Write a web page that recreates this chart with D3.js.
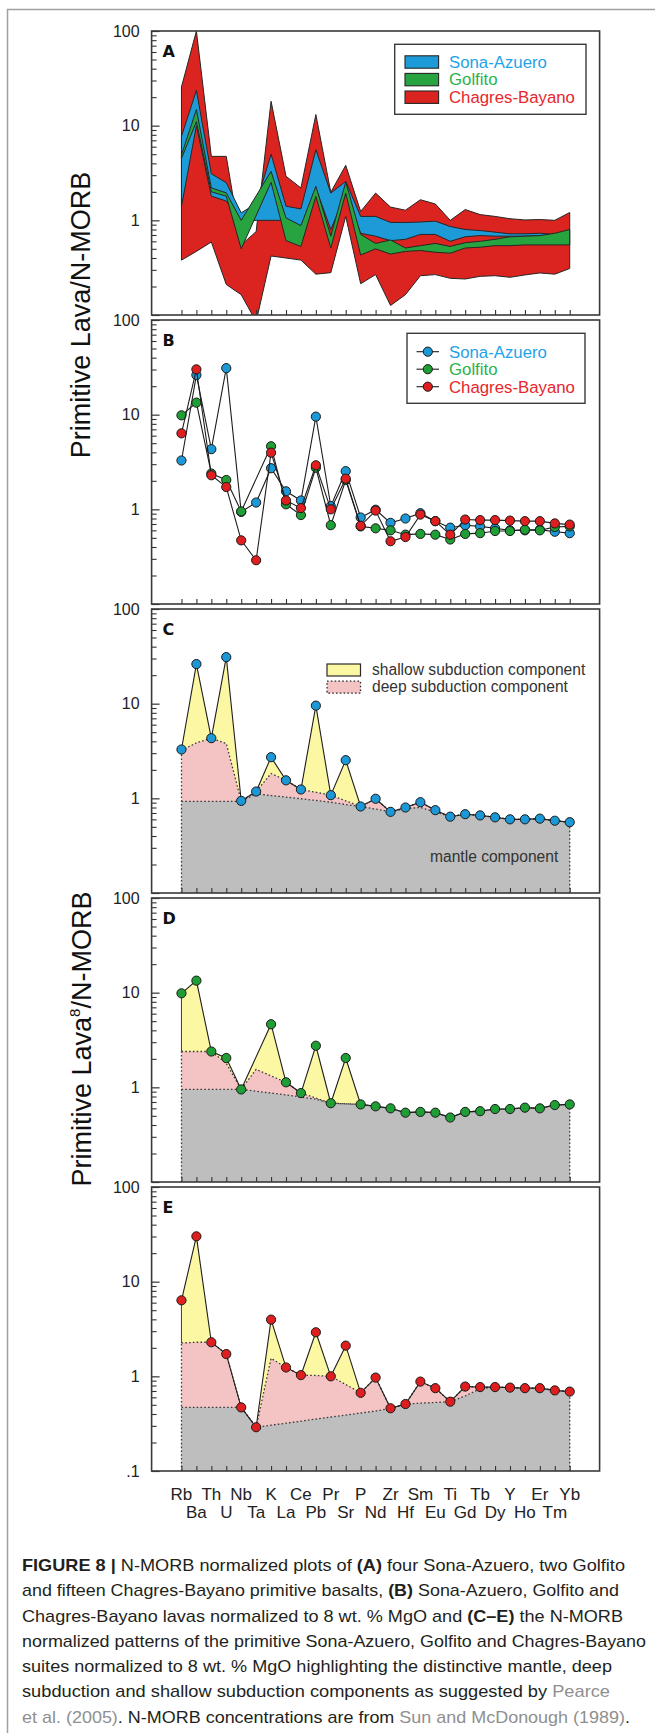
<!DOCTYPE html>
<html>
<head>
<meta charset="utf-8">
<script src="https://cdn.jsdelivr.net/npm/d3@7"></script>
<style>
  body { margin: 0; background: #fff; }
  svg { display: block; }
  text { font-family: "Liberation Sans", Arial, Helvetica, sans-serif; }
</style>
</head>
<body>
<div id="chart"></div>
<script>
// elements along the x axis
const elements = ["Rb","Ba","Th","U","Nb","Ta","K","La","Ce","Pb","Pr","Sr","P","Nd","Zr","Hf","Sm","Eu","Ti","Gd","Tb","Dy","Y","Ho","Er","Tm","Yb"]

// panel A: ranges of the primitive basalts
const chagresMax = [25.6,100,4.74,4.74,0.55,0.76,18.1,2.92,2.2,13.1,1.98,3.81,1.24,1.94,1.38,1.28,1.65,1.49,1.0,1.3,1.15,1.1,1.04,1.01,1.02,1.0,1.21]
const chagresMin = [0.38,0.47,0.59,0.21,0.164,0.085,0.42,0.40,0.38,0.27,0.28,1.1,0.214,0.267,0.126,0.164,0.26,0.267,0.244,0.24,0.256,0.26,0.25,0.265,0.278,0.27,0.31]
const sonaMax = [7.7,23.6,3.1,2.5,1.2,1.5,5.0,1.41,1.32,5.58,1.94,2.58,1.1,1.1,0.95,0.95,0.96,0.98,0.86,0.80,0.78,0.75,0.72,0.72,0.73,0.71,null]
const sonaMin = [1.4,10,1.8,1.6,0.95,1.0,1.0,1.0,0.83,2.2,0.80,1.9,0.73,0.68,0.61,0.63,0.71,0.71,0.60,0.67,0.69,0.68,0.68,0.68,0.69,0.70,null]
const golfitoMax = [4.9,14.8,2.2,1.95,1.0,null,3.29,1.06,0.88,2.29,0.68,2.54,0.71,0.57,0.62,0.51,0.54,0.57,0.53,0.58,0.60,0.63,0.67,0.68,0.69,0.73,0.80]
const golfitoMin = [4.5,11.0,2.0,1.8,0.5,null,2.52,0.61,0.53,1.79,0.51,1.94,0.43,0.50,0.44,0.47,0.48,0.46,0.45,0.51,0.52,0.54,0.54,0.55,0.55,0.55,0.55]

// panels B-E: lavas normalized to 8 wt. % MgO
const sonaAzuero = [3.28,26.2,4.32,31.0,0.94,1.18,2.72,1.55,1.24,9.53,1.08,2.53,0.82,0.99,0.72,0.80,0.91,0.75,0.64,0.68,0.66,0.63,0.60,0.60,0.61,0.58,0.56]
const golfito = [9.84,13.4,2.39,2.04,0.95,null,4.64,1.13,0.87,2.75,0.68,2.04,0.66,0.63,0.60,0.54,0.55,0.54,0.48,0.55,0.56,0.59,0.59,0.61,0.60,0.65,0.66]
const chagresBayano = [6.35,30.1,2.29,1.72,0.47,0.29,3.97,1.24,1.03,2.92,1.0,2.11,0.67,0.97,0.46,0.51,0.88,0.75,0.54,0.78,0.77,0.77,0.76,0.75,0.75,0.71,0.69]

// deep subduction and mantle components (C-E)
const sonaDeep = [3.2,3.86,4.32,3.79,0.94,1.18,1.83,1.55,1.24,1.16,1.08,0.94,0.82,0.99,0.72,0.80,0.91,0.75,0.64,0.68,0.66,0.63,0.60,0.60,0.61,0.58,0.56]
const sonaMantle = [0.93,0.93,0.93,0.93,0.93,1.12,1.07,1.03,0.99,0.95,0.91,0.86,0.82,0.77,0.72,0.78,0.80,0.72,0.64,0.68,0.66,0.63,0.60,0.60,0.61,0.58,0.56]
const golfitoDeep = [2.39,2.39,2.39,1.8,0.95,1.55,1.32,1.13,0.87,0.77,0.68,0.67,0.66,0.63,0.60,0.54,0.55,0.54,0.48,0.55,0.56,0.59,0.59,0.61,0.60,0.65,0.66]
const golfitoMantle = [0.95,0.95,0.95,0.95,0.95,0.91,0.87,0.83,0.79,0.75,0.68,0.67,0.66,0.63,0.60,0.54,0.55,0.54,0.48,0.55,0.56,0.59,0.59,0.61,0.60,0.65,0.66]
const chagresDeep = [2.25,2.29,2.29,1.72,0.47,0.29,1.55,1.24,1.03,1.02,1.0,0.82,0.67,0.97,0.46,0.51,0.88,0.75,0.54,0.78,0.77,0.77,0.76,0.75,0.75,0.71,0.69]
const chagresMantle = [0.47,0.47,0.47,0.47,0.47,0.29,0.305,0.32,0.336,0.354,0.372,0.39,0.41,0.43,0.46,0.51,0.52,0.53,0.54,0.62,0.74,0.77,0.76,0.75,0.75,0.71,0.69]

const majorTicks = [0.1, 1, 10, 100]
const suites = ["Sona-Azuero", "Golfito", "Chagres-Bayano"]
const components = ["shallow subduction component", "deep subduction component"]

const captionLines = [
    [["FIGURE 8 | ", "b"], ["N-MORB normalized plots of ", ""], ["(A)", "b"], [" four Sona-Azuero, two Golfito", ""]],
    [["and fifteen Chagres-Bayano primitive basalts, ", ""], ["(B)", "b"], [" Sona-Azuero, Golfito and", ""]],
    [["Chagres-Bayano lavas normalized to 8 wt. % MgO and ", ""], ["(C\u2013E)", "b"], [" the N-MORB", ""]],
    [["normalized patterns of the primitive Sona-Azuero, Golfito and Chagres-Bayano", ""]],
    [["suites normalized to 8 wt. % MgO highlighting the distinctive mantle, deep", ""]],
    [["subduction and shallow subduction components as suggested by ", ""], ["Pearce", "g"]],
    [["et al. (2005)", "g"], [". N-MORB concentrations are from ", ""], ["Sun and McDonough (1989)", "g"], [".", ""]]
]

const fillColor = {"Sona-Azuero": "#1d9bd8", "Golfito": "#27a33f", "Chagres-Bayano": "#db2420"}
const textColor = {"Sona-Azuero": "#1ea3e8", "Golfito": "#2bb34b", "Chagres-Bayano": "#e8262b"}
const dotColor = {"Sona-Azuero": "#1c98d6", "Golfito": "#1e9e35", "Chagres-Bayano": "#df1f1f"}

const width = 655
const height = 1733
const left = 151.6, right = 599.6
const panelH = 284
const panelTops = [31, 320, 609, 898, 1187]

const svg = d3.select("#chart")
    .append("svg")
    .attr("width", width)
    .attr("height", height)

// outer frame (cut by the right and bottom edges of the page)
svg.append("rect")
    .attr("x", 7.5).attr("y", 9.5)
    .attr("width", 720).attr("height", 1800)
    .attr("fill", "none")
    .attr("stroke", "#a0a0a0")
    .attr("stroke-width", 1.5)

const x = d3.scalePoint()
    .domain(elements)
    .range([left, right])
    .padding(2)

function makePanel(i, letter) {
    const top = panelTops[i]
    const y = d3.scaleLog().domain([0.1, 100]).range([top + panelH, top])
    const g = svg.append("g")
    const clipId = "clip" + i
    g.append("clipPath").attr("id", clipId)
        .append("rect")
        .attr("x", left).attr("y", top)
        .attr("width", right - left).attr("height", panelH)
    const plot = g.append("g").attr("clip-path", "url(#" + clipId + ")")
    const over = g.append("g")

    // minor ticks
    const minor = []
    ;[0.1, 1, 10].forEach(function(d) {
        for (let k = 2; k <= 9; k++) minor.push(d * k)
    })
    over.append("g")
        .attr("transform", "translate(" + left + ",0)")
        .call(d3.axisLeft(y).tickValues(minor).tickSize(-5).tickFormat(""))
        .call(s => s.select(".domain").remove())
        .call(s => s.selectAll("line").attr("stroke", "#333").attr("stroke-width", 1.1))

    // major ticks + labels
    over.append("g")
        .attr("transform", "translate(" + left + ",0)")
        .call(d3.axisLeft(y).tickValues(majorTicks).tickSize(-8).tickPadding(12)
            .tickFormat(function(d) {
                if (d === 0.1) return i === 4 ? ".1" : ""
                return String(d)
            }))
        .call(s => s.select(".domain").remove())
        .call(s => s.selectAll("line").attr("stroke", "#333").attr("stroke-width", 1.2))
        .call(s => s.selectAll("text")
            .attr("font-size", 16)
            .attr("fill", "#222")
            .style("font-family", '"Liberation Sans", Arial, sans-serif'))

    // element ticks on the bottom
    over.append("g")
        .attr("transform", "translate(0," + (top + panelH) + ")")
        .call(d3.axisBottom(x).tickSize(-5).tickFormat(""))
        .call(s => s.select(".domain").remove())
        .call(s => s.selectAll("line").attr("stroke", "#333").attr("stroke-width", 1.1))

    // frame
    over.append("rect")
        .attr("x", left).attr("y", top)
        .attr("width", right - left).attr("height", panelH)
        .attr("fill", "none")
        .attr("stroke", "#3a3a3a")
        .attr("stroke-width", 1.6)

    over.append("text")
        .attr("x", 162.5).attr("y", top + 26)
        .attr("font-size", 16)
        .attr("font-weight", "bold")
        .style("font-family", '"DejaVu Sans", "Liberation Sans", sans-serif')
        .attr("fill", "#111")
        .text(letter)

    return {plot: plot, over: over, y: y, top: top, bottom: top + panelH}
}

// ---------- panel A ----------
const pA = makePanel(0, "A")
const bands = [
    {name: "Chagres-Bayano", lo: chagresMin, hi: chagresMax},
    {name: "Sona-Azuero", lo: sonaMin, hi: sonaMax},
    {name: "Golfito", lo: golfitoMin, hi: golfitoMax}
]
bands.forEach(function(b) {
    const pts = elements.map(function(e, i) { return {e: e, lo: b.lo[i], hi: b.hi[i]} })
        .filter(d => d.lo != null && d.hi != null)
    const area = d3.area()
        .x(d => x(d.e))
        .y0(d => pA.y(d.lo))
        .y1(d => pA.y(d.hi))
    pA.plot.append("path")
        .datum(pts)
        .attr("d", area)
        .attr("fill", fillColor[b.name])
        .attr("stroke", "#262626")
        .attr("stroke-width", 1)
        .attr("stroke-linejoin", "round")
})

// legend A
const legA = pA.over.append("g")
legA.append("rect")
    .attr("x", 394.7).attr("y", 44.3).attr("width", 191.3).attr("height", 70)
    .attr("fill", "#fff").attr("stroke", "#3a3a3a").attr("stroke-width", 1.4)
suites.forEach(function(s, i) {
    const cy = 62 + i * 17.6
    legA.append("rect")
        .attr("x", 405).attr("y", cy - 6.2).attr("width", 33.6).attr("height", 12.4)
        .attr("fill", fillColor[s]).attr("stroke", "#262626").attr("stroke-width", 1.1)
    legA.append("text")
        .attr("x", 449).attr("y", cy + 5.8)
        .attr("font-size", 16.8)
        .attr("fill", textColor[s])
        .text(s)
})

// ---------- panel B ----------
const pB = makePanel(1, "B")
const seriesB = [
    {name: "Sona-Azuero", values: sonaAzuero},
    {name: "Golfito", values: golfito},
    {name: "Chagres-Bayano", values: chagresBayano}
]
function pointsOf(values) {
    return elements.map(function(e, i) { return {e: e, v: values[i]} }).filter(d => d.v != null)
}
function drawSeries(panel, values, name) {
    const pts = pointsOf(values)
    const line = d3.line().x(d => x(d.e)).y(d => panel.y(d.v))
    panel.plot.append("path")
        .datum(pts)
        .attr("d", line)
        .attr("fill", "none")
        .attr("stroke", "#1e1e1e")
        .attr("stroke-width", 1.1)
    panel.plot.selectAll(null)
        .data(pts)
        .enter()
        .append("circle")
        .attr("cx", d => x(d.e))
        .attr("cy", d => panel.y(d.v))
        .attr("r", 4.6)
        .attr("fill", dotColor[name])
        .attr("stroke", "#1a1a1a")
        .attr("stroke-width", 1)
}
seriesB.forEach(s => drawSeries(pB, s.values, s.name))

const legB = pB.over.append("g")
legB.append("rect")
    .attr("x", 407).attr("y", 333.3).attr("width", 178).attr("height", 70)
    .attr("fill", "#fff").attr("stroke", "#3a3a3a").attr("stroke-width", 1.4)
suites.forEach(function(s, i) {
    const cy = 351.7 + i * 17.5
    legB.append("line")
        .attr("x1", 416.5).attr("x2", 439).attr("y1", cy).attr("y2", cy)
        .attr("stroke", "#1e1e1e").attr("stroke-width", 1.1)
    legB.append("circle")
        .attr("cx", 427.8).attr("cy", cy).attr("r", 4.6)
        .attr("fill", dotColor[s]).attr("stroke", "#1a1a1a")
    legB.append("text")
        .attr("x", 449).attr("y", cy + 5.8)
        .attr("font-size", 16.8)
        .attr("fill", textColor[s])
        .text(s)
})

// ---------- panels C-E ----------
function drawComponents(panel, data, deep, mantle, name) {
    const y = panel.y
    const base = panel.bottom
    const dataPts = pointsOf(data)
    const deepPts = pointsOf(deep)
    const mantlePts = pointsOf(mantle)
    const areaOf = d3.area().x(d => x(d.e)).y0(base).y1(d => y(d.v))
    const lineOf = d3.line().x(d => x(d.e)).y(d => y(d.v))

    panel.plot.append("path").datum(dataPts).attr("d", areaOf).attr("fill", "#fbf7a3")
    panel.plot.append("path").datum(deepPts).attr("d", areaOf).attr("fill", "#f4c3c3")
    panel.plot.append("path").datum(mantlePts).attr("d", areaOf).attr("fill", "#bebebe")

    const dotted = function(sel) {
        sel.attr("fill", "none").attr("stroke", "#3a3a3a")
            .attr("stroke-width", 1.3).attr("stroke-dasharray", "1.6,2.2")
    }
    panel.plot.append("path").datum(mantlePts).attr("d", lineOf).call(dotted)
    panel.plot.append("path").datum(deepPts).attr("d", lineOf).call(dotted)

    // side edges
    const first = elements[0], last = elements[elements.length - 1]
    panel.plot.append("line")
        .attr("x1", x(first)).attr("x2", x(first))
        .attr("y1", base).attr("y2", y(deep[0])).call(dotted)
    panel.plot.append("line")
        .attr("x1", x(first)).attr("x2", x(first))
        .attr("y1", y(deep[0])).attr("y2", y(data[0]))
        .attr("stroke", "#2a2a2a").attr("stroke-width", 0.9)
    panel.plot.append("line")
        .attr("x1", x(last)).attr("x2", x(last))
        .attr("y1", base).attr("y2", y(data[data.length - 1])).call(dotted)

    drawSeries(panel, data, name)
}

const pC = makePanel(2, "C")
drawComponents(pC, sonaAzuero, sonaDeep, sonaMantle, "Sona-Azuero")
pC.over.append("text")
    .attr("x", 430).attr("y", 862)
    .attr("font-size", 15.6)
    .attr("fill", "#333")
    .text("mantle component")

const legC = pC.over.append("g")
components.forEach(function(c, i) {
    const cy = 670 + i * 17.2
    const sw = legC.append("rect")
        .attr("x", 327).attr("y", cy - 6).attr("width", 33.5).attr("height", 12)
        .attr("fill", i === 0 ? "#fbf7a3" : "#f4c3c3")
        .attr("stroke", "#2a2a2a").attr("stroke-width", i === 0 ? 1.2 : 1.3)
    if (i === 1) sw.attr("stroke-dasharray", "1.6,2.2")
    legC.append("text")
        .attr("x", 372).attr("y", cy + 5.2)
        .attr("font-size", 15.6)
        .attr("fill", "#333")
        .text(c)
})

const pD = makePanel(3, "D")
drawComponents(pD, golfito, golfitoDeep, golfitoMantle, "Golfito")

const pE = makePanel(4, "E")
drawComponents(pE, chagresBayano, chagresDeep, chagresMantle, "Chagres-Bayano")

// element labels, two staggered rows
svg.append("g").selectAll("text")
    .data(elements)
    .enter()
    .append("text")
    .attr("x", d => x(d))
    .attr("y", (d, i) => i % 2 === 0 ? 1499.5 : 1517.5)
    .attr("text-anchor", "middle")
    .attr("font-size", 17)
    .attr("fill", "#222")
    .text(d => d)

// y axis titles
svg.append("text")
    .attr("transform", "translate(90,315) rotate(-90)")
    .attr("text-anchor", "middle")
    .attr("font-size", 27)
    .attr("fill", "#111")
    .text("Primitive Lava/N-MORB")

const t2 = svg.append("text")
    .attr("transform", "translate(91,1039) rotate(-90)")
    .attr("text-anchor", "middle")
    .attr("font-size", 27)
    .attr("fill", "#111")
t2.append("tspan").text("Primitive Lava")
t2.append("tspan").attr("font-size", 15).attr("dy", -11).text("8")
t2.append("tspan").attr("dy", 11).text("/N-MORB")

// caption
const captionEnds = [625, 619, 623, 646, 612, 610, 630]
captionLines.forEach(function(line, i) {
    const t = svg.append("text")
        .attr("x", 22)
        .attr("y", 1571 + i * 25.25)
        .attr("font-size", 17)
        .attr("fill", "#231f20")
        .attr("textLength", captionEnds[i] - 22)
        .attr("lengthAdjust", "spacingAndGlyphs")
    line.forEach(function(part) {
        const sp = t.append("tspan").text(part[0])
        if (part[1] === "b") sp.attr("font-weight", "bold")
        if (part[1] === "g") sp.attr("fill", "#8f8f8f")
    })
})
</script>
</body>
</html>
